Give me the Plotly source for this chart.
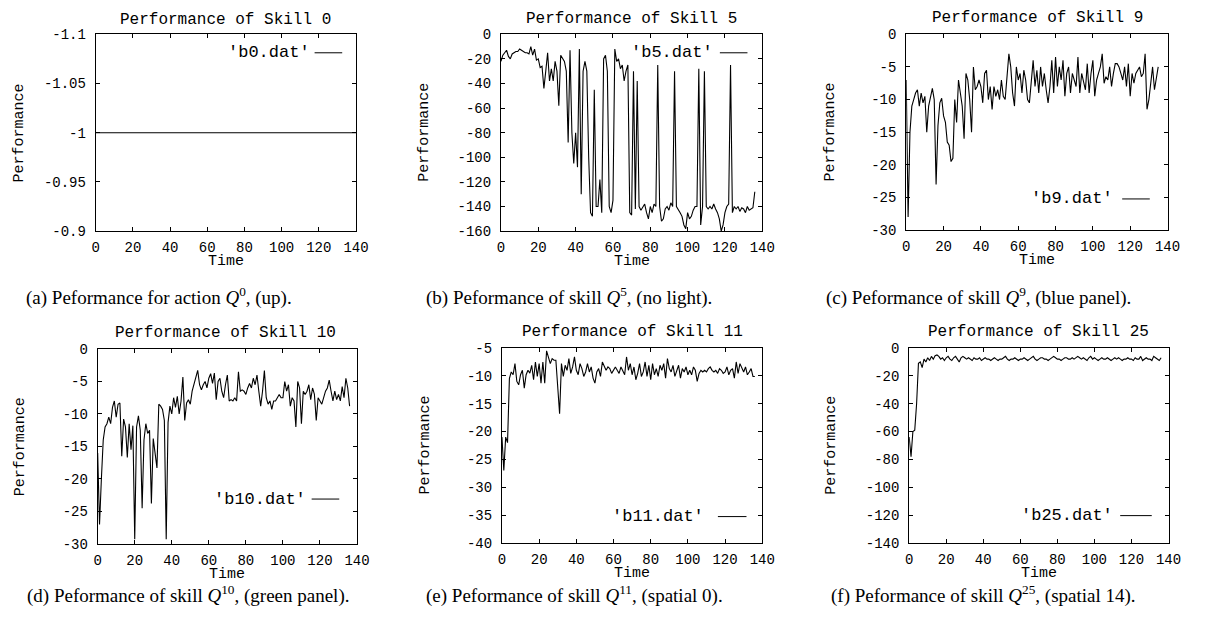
import plotly.graph_objects as go

# ---------------- data ----------------
titles = ["Performance of Skill 0", "Performance of Skill 5", "Performance of Skill 9",
          "Performance of Skill 10", "Performance of Skill 11", "Performance of Skill 25"]
legend_names = ["'b0.dat'", "'b5.dat'", "'b9.dat'", "'b10.dat'", "'b11.dat'", "'b25.dat'"]
captions = ["(a) Peformance for action <i>Q</i><sup>0</sup>, (up).",
            "(b) Peformance of skill <i>Q</i><sup>5</sup>, (no light).",
            "(c) Peformance of skill <i>Q</i><sup>9</sup>, (blue panel).",
            "(d) Peformance of skill <i>Q</i><sup>10</sup>, (green panel).",
            "(e) Peformance of skill <i>Q</i><sup>11</sup>, (spatial 0).",
            "(f) Peformance of skill <i>Q</i><sup>25</sup>, (spatial 14)."]

x_ticks = [0, 20, 40, 60, 80, 100, 120, 140]

skill0 = [-1.0] * 141

skill5 = [-22, -17, -15, -13, -18, -20, -16, -15, -14, -14, -12, -13, -14, -15, -15, -16, -10, -17, -12, -21,
          -20, -27, -26, -44, -30, -15, -38, -28, -38, -22, -30, -58, -17, -20, -22, -30, -88, -13, -80, -105,
          -80, -108, -12, -130, -30, -22, -30, -100, -145, -148, -45, -140, -140, -118, -145, -20, -17, -30, -140, -145,
          -135, -12, -22, -20, -28, -25, -38, -30, -25, -145, -147, -30, -142, -38, -140, -143, -140, -138, -145, -150,
          -140, -145, -138, -140, -25, -140, -152, -150, -142, -140, -143, -137, -140, -30, -140, -142, -145, -148, -155, -158,
          -145, -150, -148, -143, -140, -140, -28, -155, -140, -30, -140, -142, -140, -142, -138, -142, -145, -150, -160, -155,
          -145, -140, -138, -25, -145, -140, -142, -140, -144, -141, -142, -145, -140, -143, -142, -141, -128]

skill9 = [-7, -28, -15, -11, -10, -9, -8.5, -11, -9, -10.5, -9.5, -15, -11, -9.5, -8.3, -10, -23, -14, -10.5, -9.8,
          -12.5, -13.5, -16.5, -17, -19.5, -19, -10, -13.5, -7, -9, -11, -16, -6, -7, -10, -15, -5, -8.5, -8, -7,
          -8, -10.5, -6, -5.5, -10, -8, -11.5, -8, -9.5, -8.5, -10, -7, -9.5, -10, -6, -3, -5, -9, -11, -5,
          -7, -6, -9, -5.5, -7, -10, -10.5, -7, -4, -8, -5.5, -9, -5, -8, -6, -8.5, -10.5, -8, -4, -9,
          -3.5, -8, -5, -7, -4, -9.5, -6, -5, -9, -6, -7, -8, -3.5, -9, -6, -7.5, -8.5, -4.5, -9, -6,
          -4, -9.5, -7, -6, -5, -3, -7.5, -6.5, -7, -5, -8, -6, -4.5, -4.5, -5, -6, -7, -5, -8, -4.5,
          -9.5, -6, -7.5, -6, -5.5, -5, -6.5, -6, -3, -11.5, -10, -7, -5, -8.5, -6.5, -5]

skill10 = [-16, -27, -20, -14, -12, -11.5, -10.5, -11.5, -9, -8, -10.5, -8.5, -8.3, -16.5, -10.8, -12, -16.7, -11.5, -15.5, -11.8,
           -29.3, -12, -10.3, -12.5, -24.5, -14, -11.5, -13, -12.5, -23.8, -13.8, -16, -18.3, -8.5, -8.8, -9.3, -11, -29.3, -11.3, -8.8,
           -10, -7.5, -9, -7.3, -10, -8, -4.3, -11, -8.3, -7.8, -8.5, -6.5, -5.3, -4.5, -3.3, -5.5, -6.3, -5.5, -5, -6,
           -4.5, -3.8, -5.3, -3.7, -7.8, -5, -4.5, -6.5, -7.5, -5.5, -4, -8, -7.8, -8, -7.5, -8, -3.5, -6.5, -6.3, -6.5,
           -7, -6, -5.3, -6, -4.5, -5.5, -4, -6.5, -8.8, -6.5, -3.3, -7.5, -8.5, -8, -9.3, -8, -8, -7.5, -7, -7.5,
           -7.5, -5, -6.5, -5.5, -8.8, -7.5, -8, -12, -5, -6, -11.5, -6.5, -7, -6.5, -5.5, -7.8, -6, -7, -11, -7.5,
           -8, -8.5, -7.5, -6.5, -6, -4.8, -6.5, -8, -6.5, -7.8, -7, -8, -5.8, -7.5, -4.5, -6, -8.8]

skill11 = [-21, -27, -21, -22, -10.5, -9.3, -9.8, -7.8, -11, -11.6, -9.8, -9, -12.2, -9.8, -9, -9.5, -8.1, -10.7, -7.5, -10.1,
           -7.8, -11.3, -7.5, -11.3, -5.5, -6.6, -7.8, -6.9, -7.2, -7.2, -12, -16.8, -7.8, -10.1, -8.1, -9, -6.9, -9.55, -8.4, -6.6,
           -9, -9.8, -7.8, -8.7, -10.1, -9.3, -7.8, -9.3, -8.4, -10.4, -11.3, -9.3, -8.7, -10.1, -7.5, -8.4, -9, -8.4, -8.7, -9.55,
           -9, -8.4, -9, -9.55, -8.4, -9, -9.8, -6.6, -9, -7.8, -9.8, -8.4, -10.7, -9.55, -7.8, -10.1, -9.3, -7.5, -10.1, -8.1,
           -10.7, -7.8, -9.8, -8.7, -10.1, -8.1, -9, -7.8, -10.4, -6.9, -8.7, -9.3, -8.1, -10.1, -9, -8.1, -10.4, -8.7, -9.3, -8.4,
           -9.8, -9, -9.8, -8.4, -9, -11, -9.55, -9, -9.3, -9, -9.3, -8.7, -8.4, -9, -9.3, -9, -9.55, -8.7, -9, -9.55,
           -9.3, -8.4, -9.8, -9, -8.7, -10.4, -7.5, -9.55, -7.8, -8.7, -9.3, -8.4, -9.8, -9.3, -8.7, -10.1, -10.1]

skill25 = [-64, -78, -60, -59, -40, -11, -10, -14, -8, -10, -7, -9, -6, -8, -5.5, -5,
           -6, -8, -7, -9, -7, -6, -8, -9, -7, -6, -8, -10, -7, -6, -7, -8, -7, -8, -9, -7,
           -8, -8, -7, -9, -8, -7, -8, -8, -9, -8, -7, -8, -9, -8, -8, -7, -6, -8, -9, -8,
           -8, -7, -8, -9, -8, -8, -7, -8, -9, -8, -7, -6, -8, -9, -8, -7, -7, -8, -8, -9,
           -8, -7, -6, -7, -8, -8, -9, -8, -7, -7, -8, -8, -7, -8, -7, -6, -7, -8, -7, -8,
           -9, -7, -6, -8, -7, -8, -9, -8, -7, -8, -8, -7, -8, -9, -8, -7, -8, -7, -8, -9,
           -8, -8, -7, -8, -8, -9, -7, -8, -8, -6, -9, -8, -7, -8, -8, -9, -6, -7, -8, -9, -7]

series = [skill0, skill5, skill9, skill10, skill11, skill25]

y_ticks = [[-1.1, -1.05, -1, -0.95, -0.9],
           [0, -20, -40, -60, -80, -100, -120, -140, -160],
           [0, -5, -10, -15, -20, -25, -30],
           [0, -5, -10, -15, -20, -25, -30],
           [-5, -10, -15, -20, -25, -30, -35, -40],
           [0, -20, -40, -60, -80, -100, -120, -140]]
y_ticktext = [["-1.1", "-1.05", "-1", "-0.95", "-0.9"],
              ["0", "-20", "-40", "-60", "-80", "-100", "-120", "-140", "-160"],
              ["0", "-5", "-10", "-15", "-20", "-25", "-30"],
              ["0", "-5", "-10", "-15", "-20", "-25", "-30"],
              ["-5", "-10", "-15", "-20", "-25", "-30", "-35", "-40"],
              ["0", "-20", "-40", "-60", "-80", "-100", "-120", "-140"]]
y_ranges = [[-0.9, -1.1], [-160, 0], [-30, 0], [-30, 0], [-40, -5], [-140, 0]]

# ---------------- layout (pixels) ----------------
W, H = 1218, 624
def px(x): return x / W
def py(y): return 1 - y / H

boxes = [(93, 357, 28, 230), (504, 769, 28, 230), (915, 1180, 28, 229),
         (95, 358, 351, 551), (505, 769, 350, 550), (918, 1181, 350, 550)]
title_pos = [(225, 13), (636, 12), (1048, 11), (225, 335), (637, 334), (1049, 334)]
ylabel_x = [16, 427, 838, 17, 427, 839]
caption_pos = [(20, 297), (426, 297), (832, 297), (21, 603), (426, 603), (837, 603)]
legend_pos = [(312, 47, 315, 343), (721, 47, 726, 754), (1127, 197, 1134, 1162),
              (308, 505, 312, 340), (712, 523, 724, 753), (1127, 522, 1132, 1164)]

MONO = "Liberation Mono, Courier New, monospace"
SERIF = "Liberation Serif, Times New Roman, serif"

fig = go.Figure()
annotations = []
shapes = []
for i in range(6):
    k = "" if i == 0 else str(i + 1)
    x0, x1, y0, y1 = boxes[i]
    ys = series[i]
    fig.add_trace(go.Scatter(x=list(range(len(ys))), y=ys, mode="lines",
                             line=dict(color="black", width=1.1),
                             xaxis="x" + k, yaxis="y" + k, showlegend=False,
                             name=legend_names[i]))
    axis_common = dict(showline=True, linecolor="black", linewidth=1, mirror="ticks",
                       ticks="inside", ticklen=4, tickcolor="black", showgrid=False,
                       zeroline=False, tickfont=dict(family=MONO, size=14, color="black"))
    fig.layout["xaxis" + k] = dict(domain=[px(x0), px(x1)], range=[0, 140], anchor="y" + k,
                                   tickvals=x_ticks, ticktext=[str(t) for t in x_ticks],
                                   ticklabelstandoff=3, **axis_common)
    fig.layout["yaxis" + k] = dict(domain=[py(y1), py(y0)], range=y_ranges[i], anchor="x" + k,
                                   tickvals=y_ticks[i], ticktext=y_ticktext[i],
                                   ticklabelstandoff=6, **axis_common)
    tx, ty = title_pos[i]
    annotations.append(dict(text=titles[i], x=px(tx), y=py(ty), xref="paper", yref="paper",
                            showarrow=False, xanchor="center", yanchor="middle",
                            font=dict(family=MONO, size=16, color="black")))
    annotations.append(dict(text="Time", x=px((x0 + x1) / 2), y=py(y1 + 31), xref="paper", yref="paper",
                            showarrow=False, xanchor="center", yanchor="middle",
                            font=dict(family=MONO, size=15, color="black")))
    annotations.append(dict(text="Performance", x=px(ylabel_x[i]), y=py((y0 + y1) / 2), xref="paper",
                            yref="paper", showarrow=False, textangle=-90, xanchor="center", yanchor="middle",
                            font=dict(family=MONO, size=15, color="black")))
    cx, cy = caption_pos[i]
    annotations.append(dict(text=captions[i], x=px(cx), y=py(cy), xref="paper", yref="paper",
                            showarrow=False, xanchor="left", yanchor="middle",
                            font=dict(family=SERIF, size=19, color="black")))
    lx, ly, sx0, sx1 = legend_pos[i]
    annotations.append(dict(text=legend_names[i], x=px(lx), y=py(ly), xref="paper", yref="paper",
                            showarrow=False, xanchor="right", yanchor="middle",
                            font=dict(family=MONO, size=17, color="black")))
    shapes.append(dict(type="line", xref="paper", yref="paper", x0=px(sx0), x1=px(sx1),
                       y0=py(ly), y1=py(ly), line=dict(color="black", width=1)))

fig.update_layout(width=W, height=H, margin=dict(l=0, r=0, t=0, b=0),
                  paper_bgcolor="white", plot_bgcolor="white",
                  annotations=annotations, shapes=shapes, showlegend=False)
fig.write_html("out.html", config={"displayModeBar": False},
               post_script="document.body.style.margin='0';document.body.style.overflow='hidden';")
